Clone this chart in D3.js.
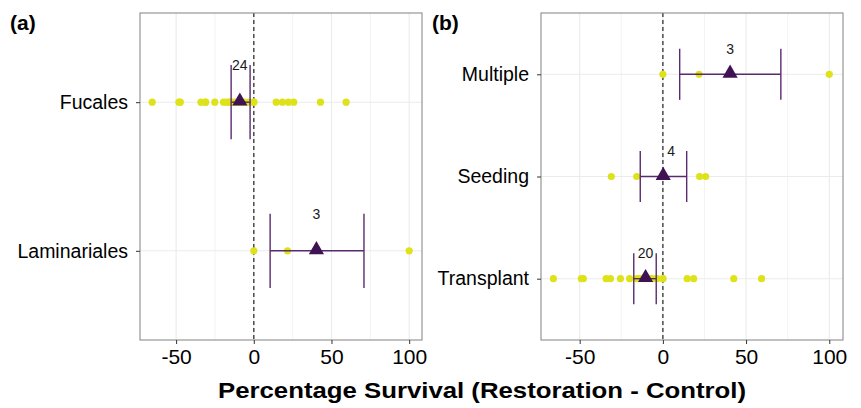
<!DOCTYPE html>
<meta charset="utf-8">
<style>
  body { margin: 0; background: #fff; }
  text { font-family: "Liberation Sans", Arial, sans-serif; }
  .grid line { stroke: #ebebeb; }
  .tick text { fill: #000; }
</style>
<body>
<script src="https://d3js.org/d3.v7.min.js"></script>
<script>

// ---- data ----
var xTicks = [-50, 0, 50, 100];
var xMinor = [-25, 25, 75];

// panel (a): order
var orderCats = ["Fucales", "Laminariales"];
var fucalesVals = [-65.4, -48.2, -47.3, -34, -31.1, -31, -25.1, -19.5, -17.6, -15.7, -15.7, -14, -12, -10, -8, -6, -3.4,
                   0, 0, 14.4, 18.4, 22.3, 25.7, 42.9, 59.4];
var laminarialesVals = [0, 21.7, 100];
var orderMeans = [-9, 40.3];
var orderLo = [-14.6, 10.5];
var orderHi = [-2.4, 70.9];
var orderN = ["24", "3"];

// panel (b): method
var methodCats = ["Multiple", "Seeding", "Transplant"];
var multipleVals = [0, 21.7, 100];
var seedingVals = [-31, -15.7, 22.1, 25.7];
var transplantVals = [-65.8, -49, -47.8, -34.1, -31.5, -25.5, -20, -15.7, -14, -12, -10, -8, -6, -3.4,
                      0, 0, 14.6, 18.5, 42.6, 59.3];
var methodMeans = [40.4, 0.2, -10.4];
var methodLo = [10.1, -13.6, -17.5];
var methodHi = [70.9, 14.3, -4.0];
var methodN = ["3", "4", "20"];
var methodLabelX = [40.4, 5, -10.4];

var panels = [
  { tag: "(a)", x0: 140, x1: 422, cats: orderCats, vals: [fucalesVals, laminarialesVals],
    means: orderMeans, lo: orderLo, hi: orderHi, n: orderN, labelX: orderMeans },
  { tag: "(b)", x0: 541, x1: 843, cats: methodCats, vals: [multipleVals, seedingVals, transplantVals],
    means: methodMeans, lo: methodLo, hi: methodHi, n: methodN, labelX: methodLabelX }
];

var W = 861, H = 408;
var plotTop = 13, plotBottom = 340;

var svg = d3.select("body").append("svg")
    .attr("width", W)
    .attr("height", H);

var tri = d3.symbol().type(d3.symbolTriangle).size(100);

panels.forEach(function(p, pi) {
  var x = d3.scaleLinear().domain([-73.25, 108.25]).range([p.x0, p.x1]);
  var y = d3.scalePoint().domain(p.cats).range([plotTop, plotBottom]).padding(0.6);
  var half = y.step() * 0.25;

  var g = svg.append("g");

  // grid
  var grid = g.append("g").attr("class", "grid");
  grid.selectAll(".minor").data(xMinor).enter().append("line")
      .attr("x1", d => x(d)).attr("x2", d => x(d))
      .attr("y1", plotTop).attr("y2", plotBottom)
      .attr("stroke-width", 0.6);
  grid.selectAll(".major").data(xTicks).enter().append("line")
      .attr("x1", d => x(d)).attr("x2", d => x(d))
      .attr("y1", plotTop).attr("y2", plotBottom)
      .attr("stroke-width", 1.1);
  grid.selectAll(".hmajor").data(p.cats).enter().append("line")
      .attr("x1", p.x0).attr("x2", p.x1)
      .attr("y1", d => y(d)).attr("y2", d => y(d))
      .attr("stroke-width", 1.1);

  // zero line
  g.append("line")
      .attr("x1", x(0)).attr("x2", x(0))
      .attr("y1", plotTop).attr("y2", plotBottom)
      .attr("stroke", "#333")
      .attr("stroke-width", 1.3)
      .attr("stroke-dasharray", "4,3");

  // raw points
  p.cats.forEach(function(c, i) {
    g.append("g").selectAll("circle")
        .data(p.vals[i]).enter().append("circle")
        .attr("cx", d => x(d))
        .attr("cy", y(c))
        .attr("r", 3.6)
        .attr("fill", "#dde318");
  });

  // error bars
  p.cats.forEach(function(c, i) {
    var eb = g.append("g")
        .attr("stroke", "#5a2a70")
        .attr("stroke-width", 1.4);
    eb.append("line")
        .attr("x1", x(p.lo[i])).attr("x2", x(p.hi[i]))
        .attr("y1", y(c)).attr("y2", y(c));
    [p.lo[i], p.hi[i]].forEach(function(v) {
      eb.append("line")
          .attr("x1", x(v)).attr("x2", x(v))
          .attr("y1", y(c) - half).attr("y2", y(c) + half);
    });
  });

  // means
  g.selectAll(".mean").data(p.cats).enter().append("path")
      .attr("d", tri)
      .attr("transform", (d, i) => "translate(" + x(p.means[i]) + "," + (y(d) - 1) + ")")
      .attr("fill", "#3f1254");

  // n labels
  g.selectAll(".nlab").data(p.cats).enter().append("text")
      .attr("x", (d, i) => x(p.labelX[i]))
      .attr("y", d => y(d) - half)
      .attr("dy", "0.35em")
      .attr("text-anchor", "middle")
      .style("font-size", "14px")
      .style("fill", "#1a1a1a")
      .text((d, i) => p.n[i]);

  // border
  g.append("rect")
      .attr("x", p.x0).attr("y", plotTop)
      .attr("width", p.x1 - p.x0).attr("height", plotBottom - plotTop)
      .attr("fill", "none")
      .attr("stroke", "#8c8c8c")
      .attr("stroke-width", 1.1);

  // axes
  var xa = g.append("g")
      .attr("transform", "translate(0," + plotBottom + ")")
      .call(d3.axisBottom(x).tickValues(xTicks).tickSize(4).tickPadding(5).tickFormat(d => String(d)));
  xa.select(".domain").remove();
  xa.selectAll("line").attr("stroke", "#333");
  xa.selectAll("text").style("font-size", "21px").attr("dy", "0.71em");

  var ya = g.append("g")
      .attr("transform", "translate(" + p.x0 + ",0)")
      .call(d3.axisLeft(y).tickSize(4).tickPadding(8));
  ya.select(".domain").remove();
  ya.selectAll("line").attr("stroke", "#333");
  ya.selectAll("text").style("font-size", "19.5px");

  // panel tag
  svg.append("text")
      .attr("x", pi === 0 ? 10 : 432)
      .attr("y", 30)
      .style("font-size", "21px")
      .style("font-weight", "bold")
      .text(p.tag);
});

svg.append("text")
    .attr("x", 482)
    .attr("y", 398)
    .attr("text-anchor", "middle")
    .attr("textLength", 528)
    .attr("lengthAdjust", "spacingAndGlyphs")
    .style("font-size", "22px")
    .style("font-weight", "bold")
    .text("Percentage Survival (Restoration - Control)");

</script>
</body>
